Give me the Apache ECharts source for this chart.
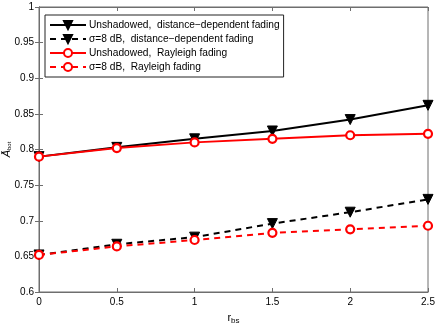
<!DOCTYPE html>
<html>
<head>
<meta charset="utf-8">
<script src="https://cdn.jsdelivr.net/npm/echarts@6/dist/echarts.min.js"></script>
<style>
  html, body { margin: 0; padding: 0; background: #fff; }
  #chart { width: 436px; height: 327px; }
</style>
</head>
<body>
<div id="chart"></div>
<script>
// r_bs values along x
var rbs = [0, 0.5, 1, 1.5, 2, 2.5]
// series values
var unshadowedDist = [0.790, 0.803, 0.815, 0.826, 0.842, 0.862]
var shadowedDist = [0.652, 0.667, 0.677, 0.696, 0.712, 0.730]
var unshadowedRayleigh = [0.790, 0.802, 0.810, 0.815, 0.820, 0.822]
var shadowedRayleigh = [0.652, 0.664, 0.673, 0.683, 0.688, 0.693]
var xTicks = [0, 0.5, 1, 1.5, 2, 2.5]
var yTicks = [0.6, 0.65, 0.7, 0.75, 0.8, 0.85, 0.9, 0.95, 1]

var names = [
    'Unshadowed,  distance\u2212dependent fading',
    '\u03c3=8 dB,  distance\u2212dependent fading',
    'Unshadowed,  Rayleigh fading',
    '\u03c3=8 dB,  Rayleigh fading'
]

function pairs(ys) {
    return ys.map(function (v, i) { return [rbs[i], v] })
}

var axisColor = '#6e6e6e'
var font = 'Liberation Sans'

function makeSeries(name, data, color, dashed, tri) {
    return {
        name: name,
        type: 'line',
        data: pairs(data),
        symbol: tri ? 'triangle' : 'circle',
        symbolSize: tri ? 10 : 8,
        symbolRotate: tri ? 180 : 0,
        lineStyle: {color: color, width: 2, type: dashed ? [6, 5] : 'solid'},
        itemStyle: tri ? {color: color, borderColor: color, borderWidth: 1}
            : {color: '#fff', borderColor: color, borderWidth: 2.2},
        z: tri ? 2 : 3
    }
}

var chart = echarts.init(document.getElementById('chart'))
chart.setOption({
    animation: false,
    textStyle: {fontFamily: font},
    grid: {left: 39, right: 8, top: 7, bottom: 35, outerBoundsMode: 'none', containLabel: false,
        show: true, borderColor: axisColor, borderWidth: 1},
    legend: {
        left: 45, top: 15,
        orient: 'vertical',
        backgroundColor: '#fff',
        borderColor: '#222',
        borderWidth: 1,
        padding: [5, 4, 5, 4],
        itemGap: 4,
        itemWidth: 36,
        itemHeight: 10,
        textStyle: {fontSize: 10.2, color: '#000', fontFamily: font, padding: [0, 0, 0, -2]},
        data: names
    },
    xAxis: [{
        type: 'value', min: 0, max: 2.5, interval: 0.5,
        name: '{r|r}{s|bs}', nameLocation: 'middle', nameGap: 19,
        nameTextStyle: {rich: {
            r: {fontSize: 11, color: '#000', fontFamily: font},
            s: {fontSize: 8, color: '#000', fontFamily: font, verticalAlign: 'bottom', padding: [6, 0, 0, 0]}
        }},
        axisLine: {lineStyle: {color: axisColor}},
        axisTick: {inside: true, length: 4, lineStyle: {color: axisColor}},
        axisLabel: {fontSize: 10, color: '#000', margin: 5, formatter: function (v) { return xTicks.indexOf(v) >= 0 ? String(v) : '' }},
        splitLine: {show: false}
    }, {
        type: 'value', position: 'top', min: 0, max: 2.5, interval: 0.5,
        axisLine: {lineStyle: {color: axisColor}},
        axisTick: {inside: true, length: 4, lineStyle: {color: axisColor}},
        axisLabel: {show: false},
        splitLine: {show: false}
    }],
    yAxis: [{
        type: 'value', min: 0.6, max: 1, interval: 0.05,
        name: '{a|\u0100}{s|bot}', nameLocation: 'middle', nameGap: 27, nameMoveOverlap: false,
        nameTextStyle: {rich: {
            a: {fontSize: 11, color: '#000', fontFamily: font, fontStyle: 'italic'},
            s: {fontSize: 6, color: '#000', fontFamily: font, verticalAlign: 'bottom', padding: [5, 0, 0, 0]}
        }},
        axisLine: {show: true, lineStyle: {color: axisColor}},
        axisTick: {show: true, inside: true, length: 4, lineStyle: {color: axisColor}},
        axisLabel: {fontSize: 10, color: '#000', margin: 5, formatter: function (v) {
            var t = yTicks.find(function (y) { return Math.abs(y - v) < 1e-6 })
            return t === undefined ? '' : String(t)
        }},
        splitLine: {show: false}
    }, {
        type: 'value', position: 'right', min: 0.6, max: 1, interval: 0.05,
        axisLine: {show: true, lineStyle: {color: axisColor}},
        axisTick: {show: true, inside: true, length: 4, lineStyle: {color: axisColor}},
        axisLabel: {show: false},
        splitLine: {show: false}
    }],
    series: [
        makeSeries(names[0], unshadowedDist, '#000', false, true),
        makeSeries(names[1], shadowedDist, '#000', true, true),
        makeSeries(names[2], unshadowedRayleigh, '#ff0000', false, false),
        makeSeries(names[3], shadowedRayleigh, '#ff0000', true, false)
    ]
})
</script>
</body>
</html>
